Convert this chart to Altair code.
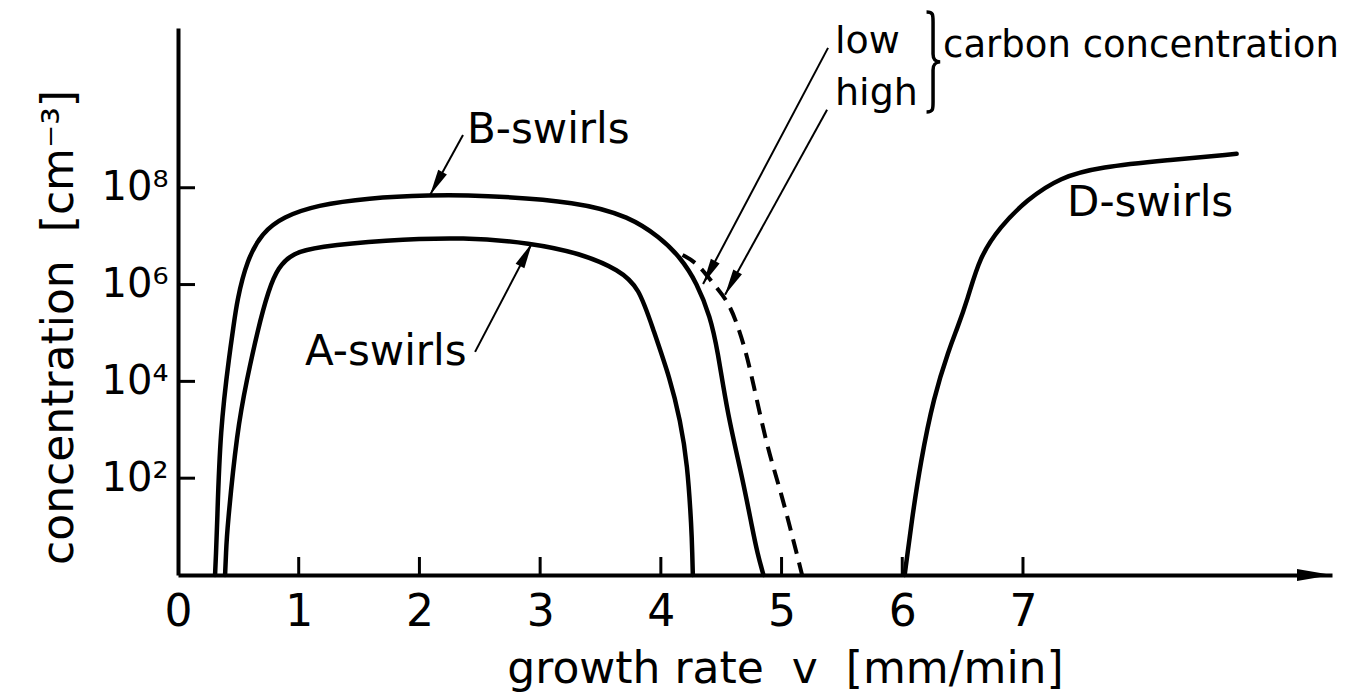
import math
import altair as alt
import pandas as pd

# ---------------- data ----------------
# growth rate v [mm/min] and log10(concentration [cm^-3])
b_x = [0.307, 0.315, 0.323, 0.348, 0.431, 0.456, 0.489, 0.572, 0.696, 0.87, 1.15, 1.57, 2.09, 2.50,
       3.33, 3.74, 3.99, 4.16, 4.30, 4.41, 4.47, 4.55, 4.68, 4.76, 4.80, 4.85]
b_log = [0.0, 0.45, 0.93, 3.0, 4.65, 5.06, 5.68, 6.51, 7.07, 7.40, 7.64, 7.79, 7.85, 7.85,
         7.71, 7.40, 6.98, 6.57, 6.03, 5.33, 4.65, 3.35, 1.96, 0.93, 0.45, 0.0]

a_x = [0.39, 0.398, 0.406, 0.49, 0.57, 0.66, 0.75, 0.83, 0.95, 1.15, 1.70, 2.39, 2.92, 3.33,
       3.66, 3.82, 3.93, 4.08, 4.16, 4.22, 4.255, 4.26, 4.265]
a_log = [0.0, 0.45, 0.93, 3.0, 4.03, 5.06, 5.89, 6.36, 6.65, 6.78, 6.92, 6.98, 6.86, 6.65,
         6.30, 5.93, 5.12, 4.03, 3.20, 2.31, 0.93, 0.45, 0.0]

hc_x = [4.18, 4.30, 4.43, 4.55, 4.63, 4.70, 4.76, 4.88, 4.99, 5.09, 5.13, 5.17]
hc_log = [6.61, 6.45, 6.03, 5.68, 5.21, 4.65, 4.03, 2.64, 1.76, 0.79, 0.4, 0.0]

d_x = [6.02, 6.08, 6.15, 6.26, 6.39, 6.45, 6.54, 6.64, 6.81, 7.03, 7.31, 7.64, 8.19, 8.77]
d_log = [0.0, 1.15, 2.31, 3.68, 4.68, 5.06, 5.68, 6.57, 7.19, 7.75, 8.22, 8.43, 8.57, 8.70]

x_tick_values = [1, 2, 3, 4, 5, 6, 7]
x_label_values = [0, 1, 2, 3, 4, 5, 6, 7]
y_tick_values = [100, 10000, 1000000, 100000000]
y_tick_labels = ["10²", "10⁴", "10⁶", "10⁸"]

ann_text = ["B-swirls", "A-swirls", "D-swirls", "low", "high", "carbon concentration"]
ann_x = [2.394, 1.052, 7.365, 5.443, 5.443, 6.338]
ann_log = [8.925, 4.339, 7.417, 10.785, 9.711, 10.70]

arrow_x0 = [2.361, 2.461, 5.385, 5.377]
arrow_l0 = [9.09, 4.61, 10.89, 9.61]
arrow_x1 = [2.088, 2.933, 4.350, 4.532]
arrow_l1 = [7.85, 6.86, 6.01, 5.79]

brace_x = [6.255]
brace_log = [10.60]

# ---------------- layout / style ----------------
XMAX = 9.56
LMAX = 11.3
W, H = 1154, 547
FONT = "DejaVu Sans"
ann_size = [42, 42, 42, 38, 38, 37]

xscale = alt.Scale(domain=[0, XMAX], nice=False, zero=False)
yscale = alt.Scale(type="log", domain=[1, 10 ** LMAX], nice=False)

label_expr = " : ".join(
    f"datum.value == {v} ? '{t}'" for v, t in zip(y_tick_values, y_tick_labels)
) + " : ''"

x_axis = alt.Axis(
    values=x_label_values, format="d", labelFontSize=44, labelPadding=15,
    labelFlush=False, labelOverlap=False, ticks=False, grid=False,
    domainWidth=4, domainColor="black", labelColor="black", labelFont=FONT,
    title="growth rate\u00a0\u00a0v\u00a0\u00a0[mm/min]", titleFont=FONT,
    titleFontSize=44, titleFontWeight="normal", titleColor="black",
    titleX=607, titleY=107, titleBaseline="alphabetic", titleAlign="center",
)
y_axis = alt.Axis(
    values=y_tick_values, labelExpr=label_expr, labelFontSize=40, labelPadding=10,
    labelBaseline="middle", ticks=False, grid=False, domainWidth=4,
    domainColor="black", labelColor="black", labelFont=FONT,
    title="concentration\u00a0\u00a0[cm⁻³]", titleFont=FONT, titleFontSize=44,
    titleFontWeight="normal", titleColor="black", titleAngle=270,
    titleX=-106, titleY=299, titleBaseline="alphabetic", titleAlign="center",
)

def X(field="x"):
    return alt.X(f"{field}:Q", scale=xscale, axis=x_axis)

def Y(field="y"):
    return alt.Y(f"{field}:Q", scale=yscale, axis=y_axis)

# ---------------- tables ----------------
rows = []
for name, xs, ls in [("B", b_x, b_log), ("A", a_x, a_log), ("D", d_x, d_log)]:
    for i, (xv, lv) in enumerate(zip(xs, ls)):
        rows.append({"series": name, "order": i, "x": xv, "y": 10 ** lv})
solid_df = pd.DataFrame(rows)
dash_df = pd.DataFrame({"series": "high", "order": range(len(hc_x)), "x": hc_x,
                        "y": [10 ** v for v in hc_log]})

ann_df = pd.DataFrame({"x": ann_x, "y": [10 ** v for v in ann_log],
                       "text": ann_text, "fs": ann_size})

px_per_x = W / XMAX
px_per_l = H / LMAX
arr_rows = []
for x0, l0, x1, l1 in zip(arrow_x0, arrow_l0, arrow_x1, arrow_l1):
    dx = (x1 - x0) * px_per_x
    dy = -(l1 - l0) * px_per_l
    ang = math.degrees(math.atan2(dx, -dy)) % 360
    arr_rows.append({"x": x0, "y": 10 ** l0, "x2": x1, "y2": 10 ** l1, "ang": ang})
arr_df = pd.DataFrame(arr_rows)

xt_df = pd.DataFrame({"x": x_tick_values})
yt_df = pd.DataFrame({"y": y_tick_values})
axis_arrow_df = pd.DataFrame({"x": [XMAX], "y": [1]})
brace_df = pd.DataFrame({"x": brace_x, "y": [10 ** v for v in brace_log]})

HEAD = "M0,0 L-0.38,2 L0.38,2 Z"
AXIS_HEAD = "M0,0 L-0.34,2 L0.34,2 Z"
BRACE = ("M-0.13,-1 C0,-1 0,-0.95 0,-0.8 L0,-0.16 C0,-0.04 0.05,-0.01 0.14,0 "
         "C0.05,0.01 0,0.04 0,0.16 L0,0.8 C0,0.95 0,1 -0.13,1")

# ---------------- layers ----------------
solid = alt.Chart(solid_df).mark_line(
    color="black", strokeWidth=4.5, interpolate="basis", strokeCap="round"
).encode(x=X(), y=Y(), detail="series:N", order="order:Q")

dashed = alt.Chart(dash_df).mark_line(
    color="black", strokeWidth=4, interpolate="basis", strokeDash=[15, 9]
).encode(x=X(), y=Y(), order="order:Q")

x_ticks_layer = alt.Chart(xt_df).mark_rule(color="black", strokeWidth=3).encode(
    x=X(), y=alt.value(H - 18), y2=alt.value(H)
)
y_ticks_layer = alt.Chart(yt_df).mark_rule(color="black", strokeWidth=3).encode(
    y=Y(), x=alt.value(0), x2=alt.value(17)
)

axis_arrow = alt.Chart(axis_arrow_df).mark_point(
    shape=AXIS_HEAD, filled=True, color="black", opacity=1, size=1225, angle=90
).encode(x=X(), y=Y())

arrow_lines = alt.Chart(arr_df).mark_rule(color="black", strokeWidth=2).encode(
    x=X(), y=Y(), x2="x2:Q", y2="y2:Q"
)
arrow_heads = alt.Chart(arr_df).mark_point(
    shape=HEAD, filled=True, color="black", opacity=1, size=676
).encode(x=X("x2"), y=Y("y2"), angle=alt.Angle("ang:Q", scale=None))

brace = alt.Chart(brace_df).mark_point(
    shape=BRACE, filled=False, color="black", opacity=1, size=10000, strokeWidth=3.5
).encode(x=X(), y=Y())

labels = alt.Chart(ann_df).mark_text(
    align="left", baseline="alphabetic", font=FONT, color="black"
).encode(x=X(), y=Y(), text="text:N", size=alt.Size("fs:Q", scale=None, legend=None))

chart = alt.layer(
    solid, dashed, x_ticks_layer, y_ticks_layer, axis_arrow,
    arrow_lines, arrow_heads, brace, labels
).properties(
    width=W, height=H,
    autosize=alt.AutoSizeParams(type="none"),
    padding={"left": 170, "top": 20, "right": 16, "bottom": 117},
    background="white",
).configure_view(stroke=None)

chart.save("out.html", embed_options={"renderer": "svg", "actions": False})
